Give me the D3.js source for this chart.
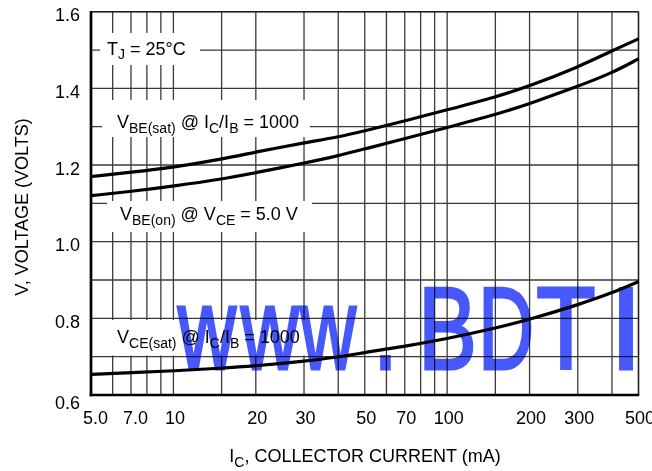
<!DOCTYPE html>
<html>
<head>
<meta charset="utf-8">
<script src="https://cdn.jsdelivr.net/npm/d3@7"></script>
<style>
  html, body { margin: 0; padding: 0; background: #fff; }
  svg { display: block; }
  text { font-family: "Liberation Sans", Arial, Helvetica, sans-serif; fill: #000; }
</style>
</head>
<body>
<script>
// ---------- data ----------
const currentMA = [5, 7, 10, 15, 20, 30, 40, 50, 70, 100, 150, 200, 300, 400, 500];
const vbeSat    = [1.170, 1.181, 1.194, 1.215, 1.234, 1.258, 1.273, 1.289, 1.315, 1.344, 1.377, 1.406, 1.455, 1.498, 1.529];
const vbeOn     = [1.120, 1.131, 1.145, 1.163, 1.180, 1.205, 1.224, 1.242, 1.269, 1.298, 1.331, 1.360, 1.405, 1.440, 1.477];
const vceSat    = [0.654, 0.658, 0.663, 0.670, 0.676, 0.688, 0.699, 0.711, 0.727, 0.747, 0.774, 0.797, 0.835, 0.866, 0.896];

const xTickValues = [5, 7, 10, 20, 30, 50, 70, 100, 200, 300, 500];
const xTickLabels = ["5.0", "7.0", "10", "20", "30", "50", "70", "100", "200", "300", "500"];
const xGridValues = [5, 6, 7, 8, 9, 10, 15, 20, 30, 40, 50, 60, 70, 80, 90, 100, 150, 200, 300, 400, 500];
const yTickValues = [0.6, 0.8, 1.0, 1.2, 1.4, 1.6];
const yTickLabels = ["0.6", "0.8", "1.0", "1.2", "1.4", "1.6"];
const yGridValues = [0.6, 0.7, 0.8, 0.9, 1.0, 1.1, 1.2, 1.3, 1.4, 1.5, 1.6];

// ---------- setup ----------
const W = 652, H = 471;
const svg = d3.select("body").append("svg").attr("width", W).attr("height", H);

const x = d3.scaleLog().domain([5, 500]).range([91, 638.5]);
const y = d3.scaleLinear().domain([0.6, 1.6]).range([395, 11.7]);

// ---------- grid ----------
const grid = svg.append("g").attr("stroke", "#3a3a3a").attr("stroke-width", 1.3);
grid.selectAll("line.v").data(xGridValues).join("line")
  .attr("x1", d => x(d)).attr("x2", d => x(d))
  .attr("y1", y(1.6)).attr("y2", y(0.6));
grid.selectAll("line.h").data(yGridValues).join("line")
  .attr("x1", x(5)).attr("x2", x(500))
  .attr("y1", d => y(d)).attr("y2", d => y(d));

// ---------- label boxes (white, interrupt grid) ----------
const boxes = [
  {x0: 100, x1: 200, y0: 33,  y1: 65},
  {x0: 102, x1: 310, y0: 100, y1: 137},
  {x0: 107, x1: 312, y0: 201, y1: 232},
  {x0: 93,  x1: 305, y0: 320, y1: 355.5}
];
svg.append("g").selectAll("rect").data(boxes).join("rect")
  .attr("x", d => d.x0).attr("y", d => d.y0)
  .attr("width", d => d.x1 - d.x0).attr("height", d => d.y1 - d.y0)
  .attr("fill", "#fff");

// ---------- frame ----------
const frame = svg.append("g");
frame.append("line").attr("x1", x(5)).attr("x2", x(500)).attr("y1", y(1.6)).attr("y2", y(1.6))
  .attr("stroke", "#222").attr("stroke-width", 1.4);
frame.append("line").attr("x1", x(500)).attr("x2", x(500)).attr("y1", y(1.6)).attr("y2", y(0.6))
  .attr("stroke", "#222").attr("stroke-width", 1.4);
frame.append("line").attr("x1", x(5)).attr("x2", x(5)).attr("y1", y(1.6) - 0.7).attr("y2", y(0.6) + 1.3)
  .attr("stroke", "#000").attr("stroke-width", 2.7);
frame.append("line").attr("x1", x(5) - 1.3).attr("x2", x(500) + 0.7).attr("y1", y(0.6)).attr("y2", y(0.6))
  .attr("stroke", "#000").attr("stroke-width", 2.7);

// ---------- curves ----------
const line = d3.line().x(d => x(d[0])).y(d => y(d[1])).curve(d3.curveBasis);
[vbeSat, vbeOn, vceSat].forEach(series => {
  svg.append("path")
    .datum(currentMA.map((c, i) => [c, series[i]]))
    .attr("fill", "none").attr("stroke", "#000").attr("stroke-width", 3.2)
    .attr("stroke-linejoin", "round")
    .attr("d", line);
});

// ---------- axes labels ----------
const xAxis = svg.append("g").attr("transform", `translate(0,${y(0.6)})`)
  .call(d3.axisBottom(x).tickValues(xTickValues).tickFormat((d, i) => xTickLabels[i]).tickSize(0));
xAxis.select(".domain").remove();
xAxis.selectAll("text")
  .attr("y", 28.5).attr("dy", null)
  .attr("dx", (d, i) => xTickLabels[i].includes(".") ? 4 : 1)
  .style("font-size", "18px").style("font-family", '"Liberation Sans", Arial, sans-serif').attr("fill", "#000");

const yAxis = svg.append("g").attr("transform", `translate(80,0)`)
  .call(d3.axisLeft(y).tickValues(yTickValues).tickFormat((d, i) => yTickLabels[i]).tickSize(0).tickPadding(0));
yAxis.select(".domain").remove();
yAxis.selectAll("text")
  .attr("x", 0).attr("dy", null)
  .attr("y", (d, i) => i === 0 ? 13 : 9)
  .attr("text-anchor", "end")
  .style("font-size", "18px").style("font-family", '"Liberation Sans", Arial, sans-serif').attr("fill", "#000");

// ---------- rich text with subscripts ----------
function rich(parent, parts, attrs) {
  const t = parent.append("text");
  Object.entries(attrs).forEach(([k, v]) => t.attr(k, v));
  t.style("font-size", "18px");
  let pending = 0;
  parts.forEach(p => {
    if (typeof p === "string") {
      const s = t.append("tspan").text(p);
      if (pending) { s.attr("dy", -pending); pending = 0; }
    } else {
      t.append("tspan").attr("dy", p.shift - pending).style("font-size", "14px").text(p.sub);
      pending = p.shift;
    }
  });
  return t;
}

rich(svg, ["I", {sub: "C", shift: 5}, ", COLLECTOR CURRENT (mA)"],
  {x: 365, y: 461.5, "text-anchor": "middle"});

svg.append("text")
  .attr("transform", "translate(28,207) rotate(-90)")
  .attr("text-anchor", "middle")
  .style("font-size", "18px")
  .text("V, VOLTAGE (VOLTS)");

// ---------- annotations ----------
rich(svg, ["T", {sub: "J", shift: 4}, " = 25°C"], {x: 107, y: 55});
rich(svg, ["V", {sub: "BE(sat)", shift: 5}, " @ I", {sub: "C", shift: 5}, "/I", {sub: "B", shift: 5}, " = 1000"], {x: 117, y: 128});
rich(svg, ["V", {sub: "BE(on)", shift: 5}, " @ V", {sub: "CE", shift: 5}, " = 5.0 V"], {x: 120, y: 220});
rich(svg, ["V", {sub: "CE(sat)", shift: 5}, " @ I", {sub: "C", shift: 5}, "/I", {sub: "B", shift: 5}, " = 1000"], {x: 117, y: 343});

// ---------- watermark ----------
const wmChars = [
  {c: "w", cx: 207, sx: 0.69},
  {c: "w", cx: 270, sx: 0.69},
  {c: "w", cx: 328, sx: 0.66},
  {c: ".", cx: 385.5, sx: 0.75},
  {c: "B", cx: 447.5, sx: 0.75},
  {c: "D", cx: 506, sx: 0.66},
  {c: "T", cx: 566, sx: 0.83},
  {c: "I", cx: 626, sx: 1.0}
];
const wm = svg.append("g").style("mix-blend-mode", "multiply");
wm.selectAll("text").data(wmChars).join("text")
  .attr("transform", d => `translate(${d.cx},368.5) scale(${d.sx},1)`)
  .attr("text-anchor", "middle")
  .style("font-size", "117px")
  .style("fill", "#4758fc")
  .attr("stroke", "#4758fc").attr("stroke-width", 3)
  .text(d => d.c);
</script>
</body>
</html>
